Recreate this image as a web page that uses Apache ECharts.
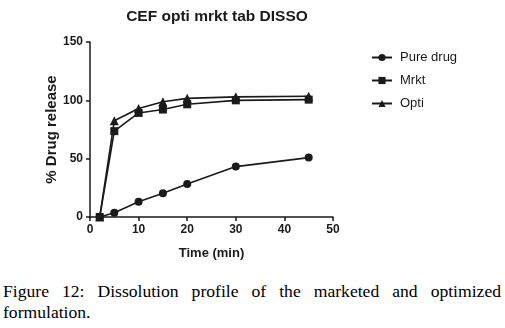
<!DOCTYPE html>
<html>
<head>
<meta charset="utf-8">
<script src="https://cdn.jsdelivr.net/npm/echarts@6/dist/echarts.min.js"></script>
<style>
  html, body { margin: 0; padding: 0; background: #fff; }
  #wrap { position: relative; width: 505px; height: 328px; overflow: hidden; }
  #chart { position: absolute; left: 0; top: 0; width: 505px; height: 275px; }
  #caption { position: absolute; left: 3px; top: 281px; width: 498px;
    font-family: "Liberation Serif", "DejaVu Serif", serif; font-size: 17.6px; line-height: 21px;
    text-align: justify; color: #000; }
</style>
</head>
<body>
<div id="wrap">
  <div id="chart"></div>
  <div id="caption">Figure 12: Dissolution profile of the marketed and optimized formulation.</div>
</div>
<script>
var titleText = "CEF opti mrkt tab DISSO";
var xAxisName = "Time (min)";
var yAxisName = "% Drug release";
var times = [2, 5, 10, 15, 20, 30, 45];
var pureDrug = [0, 3.7, 13.1, 20.3, 28.3, 43.2, 50.9];
var mrkt = [0, 73.6, 89.2, 92.1, 96.6, 100, 100.6];
var opti = [0, 82.5, 93, 98.8, 101.7, 103, 103.5];
var seriesNames = ["Pure drug", "Mrkt", "Opti"];
var xTicks = [0, 10, 20, 30, 40, 50];
var yTicks = [0, 50, 100, 150];

function pairs(xs, ys) { return xs.map(function (x, i) { return [x, ys[i]]; }); }

var chart = echarts.init(document.getElementById('chart'), null, { renderer: 'canvas' });
var ink = '#1a1a1a';
function mk(name, data, symbol, size) {
  return {
    name: name, type: 'line', data: pairs(times, data),
    symbol: symbol, symbolSize: size, showSymbol: true,
    lineStyle: { color: ink, width: 1.6 },
    itemStyle: { color: ink },
    animation: false
  };
}
chart.setOption({
  animation: false,
  title: {
    text: titleText, left: 212, top: 4, textAlign: 'center',
    textStyle: { fontFamily: 'Liberation Sans', fontWeight: 'bold', fontSize: 15.5, color: ink }
  },
  legend: {
    orient: 'vertical', left: 366, top: 46, itemGap: 10,
    itemWidth: 20, itemHeight: 9,
    data: seriesNames,
    textStyle: { fontFamily: 'Liberation Sans', fontSize: 13, color: ink, padding: [0, 0, 0, 3] }
  },
  grid: { left: 90, right: 172, top: 42, bottom: 58, containLabel: false },
  xAxis: {
    type: 'value', min: xTicks[0], max: xTicks[xTicks.length - 1], interval: 10,
    name: xAxisName, nameLocation: 'middle', nameGap: 30,
    nameTextStyle: { fontFamily: 'Liberation Sans', fontWeight: 'bold', fontSize: 13, color: ink },
    axisLine: { show: true, lineStyle: { color: ink, width: 1.5 } },
    axisTick: { show: true, length: 4, lineStyle: { color: ink, width: 1.5 } },
    axisLabel: { fontFamily: 'Liberation Sans', fontWeight: 'bold', fontSize: 12, color: ink, margin: 7 },
    splitLine: { show: false }
  },
  yAxis: {
    type: 'value', min: yTicks[0], max: yTicks[yTicks.length - 1], interval: 50,
    name: yAxisName, nameLocation: 'middle', nameGap: 25,
    nameTextStyle: { fontFamily: 'Liberation Sans', fontWeight: 'bold', fontSize: 15, color: ink },
    axisLine: { show: true, lineStyle: { color: ink, width: 1.5 } },
    axisTick: { show: true, length: 4, lineStyle: { color: ink, width: 1.5 } },
    axisLabel: { fontFamily: 'Liberation Sans', fontWeight: 'bold', fontSize: 12, color: ink, margin: 7 },
    splitLine: { show: false }
  },
  series: [
    mk(seriesNames[0], pureDrug, 'circle', 8),
    mk(seriesNames[1], mrkt, 'rect', 8),
    mk(seriesNames[2], opti, 'triangle', 9)
  ]
});
</script>
</body>
</html>
